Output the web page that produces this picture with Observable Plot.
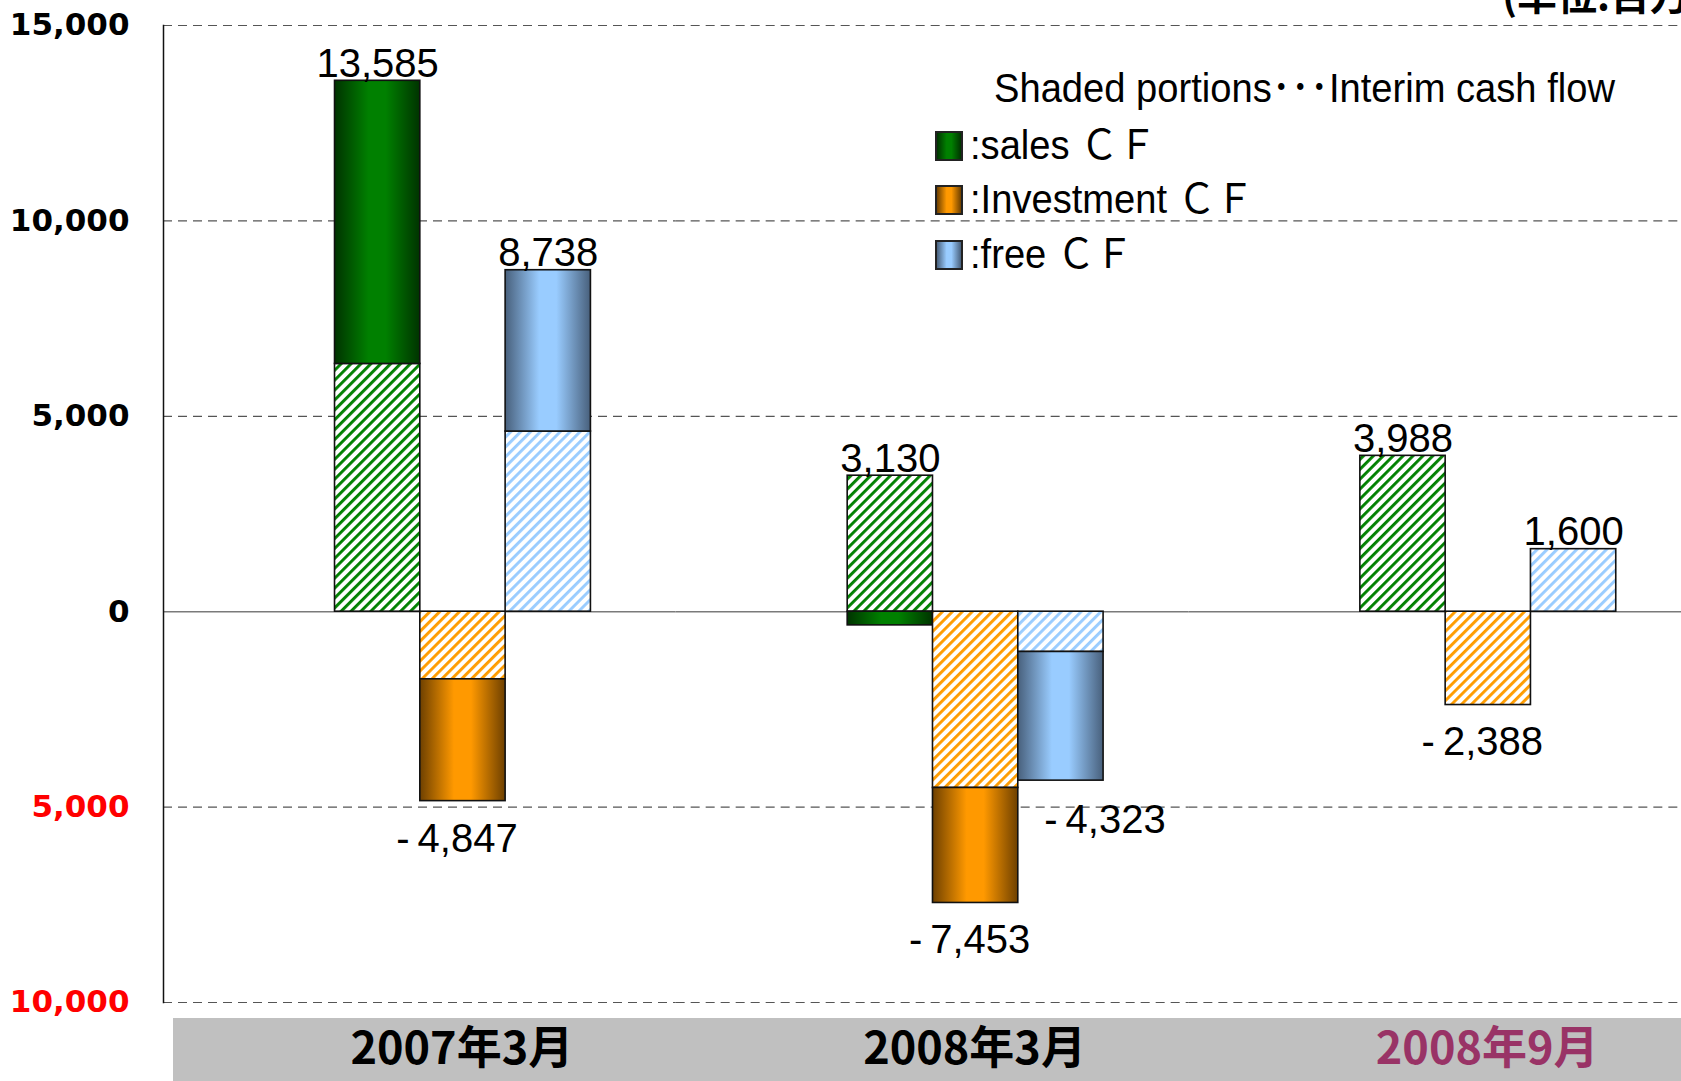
<!DOCTYPE html>
<html>
<head>
<meta charset="utf-8">
<script src="https://cdn.jsdelivr.net/npm/d3@7"></script>
<script src="https://cdn.jsdelivr.net/npm/@observablehq/plot@0.6"></script>
<style>
  html, body { margin: 0; padding: 0; background: #fff; overflow: hidden; }
  #wrap { position: relative; width: 1681px; height: 1081px; overflow: hidden; background: #fff; }
  #band { position: absolute; left: 173px; top: 1018px; width: 1508px; height: 63px; background: #c0c0c0; }
  #chart { position: absolute; left: 0; top: 0; }
  #unit { position: absolute; left: 1502px; top: -27px; font: bold 40px "Noto Sans CJK JP", sans-serif; line-height: 40px; white-space: nowrap; color: #000; }
  .lg { position: absolute; white-space: nowrap; color: #000; font-family: "Liberation Sans", "Noto Sans CJK JP", sans-serif; font-size: 41px; line-height: 41px; transform: scaleX(0.93); transform-origin: 0 50%; }
  .sw { position: absolute; width: 24px; height: 26px; border: 2px solid #222; }
</style>
</head>
<body>
<div id="wrap">
  <div id="band"></div>
  <div id="chart"></div>
  <div id="unit">(単位:百万円)</div>
  <div id="legend"></div>
</div>
<script>
// ---- data ----
const periods = ["2007年3月", "2008年3月", "2008年9月"];
const seriesKeys = ["sales", "investment", "free"];
const seriesNames = [":sales ＣＦ", ":Investment ＣＦ", ":free ＣＦ"];
const salesTotal = [13585, 3130, 3988];
const investmentTotal = [-4847, -7453, -2388];
const freeTotal = [8738, -4323, 1600];
const salesInterim = [6340, 3480, 3988];
const investmentInterim = [-1730, -4510, -2388];
const freeInterim = [4610, -1030, 1600];
const yTicks = [15000, 10000, 5000, 0, -5000, -10000];
const gridTicks = [15000, 10000, 5000, -5000, -10000];
const periodColors = ["#000000", "#000000", "#993366"];
const legendTitle = "Shaded portions･･･Interim cash flow";

const totals = {sales: salesTotal, investment: investmentTotal, free: freeTotal};
const interims = {sales: salesInterim, investment: investmentInterim, free: freeInterim};

const rows = [];
const labels = [];
periods.forEach((p, i) => {
  seriesKeys.forEach(s => {
    const total = totals[s][i], interim = interims[s][i];
    rows.push({period: p, series: s, part: "interim", value: interim});
    if (total - interim !== 0) rows.push({period: p, series: s, part: "second", value: total - interim});
    const ext = total >= 0 ? Math.max(total, interim, 0) : Math.min(total, interim, 0);
    labels.push({period: p, series: s, total, y: ext});
  });
});

const fmtAbs = d3.format(",");
const fmt = v => (v < 0 ? "-\u2009" : "") + fmtAbs(Math.abs(v));
const palette = {
  sales: {stripe: "#008000", dark: "#003300", mid: "#008000"},
  investment: {stripe: "#ff9c00", dark: "#6e4000", mid: "#ff9900"},
  free: {stripe: "#99ccff", dark: "#48607c", mid: "#99ccff"}
};
const isSpecial = d => d.period === "2008年3月" && d.series === "free";

const chart = Plot.plot({
  width: 1701,
  height: 1081,
  marginTop: 25,
  marginBottom: 79,
  marginLeft: 163,
  marginRight: 0,
  style: {background: "transparent", maxWidth: "none", overflow: "visible"},
  fx: {domain: periods, padding: 0, round: false, label: null},
  x: {domain: seriesKeys, paddingInner: 0, paddingOuter: 1.505, align: 0.668, round: false, axis: null},
  y: {domain: [-10000, 15000]},
  color: {type: "identity"},
  marks: [
    Plot.ruleY(gridTicks, {stroke: "#555", strokeWidth: 1.2, strokeDasharray: "9,6"}),
    Plot.ruleY([0], {stroke: "#7a7a7a", strokeWidth: 1.5}),
    Plot.barY(rows, Plot.stackY({
      fx: "period", x: "series", y: "value",
      fill: d => d.part === "interim" ? `url(#hatch-${d.series})` : `url(#grad-${d.series})`,
      stroke: "#111", strokeWidth: 1.6, inset: 0
    })),
    Plot.frame({anchor: "left", facetAnchor: "left", stroke: "#111", strokeWidth: 1.5}),
    Plot.axisY({
      ticks: yTicks, tickSize: 0, tickPadding: 34,
      tickFormat: d => fmtAbs(Math.abs(d)),
      fill: d => d < 0 ? "#ff0000" : "#000000",
      fontSize: 31, fontWeight: "bold", fontFamily: "DejaVu Sans", label: null
    }),
    Plot.axisFx({
      anchor: "bottom", tickSize: 0, tickPadding: 30, dx: 42, label: null,
      fill: d => periodColors[periods.indexOf(d)],
      fontSize: 45, fontWeight: "bold", fontFamily: "Noto Sans CJK JP"
    }),
    Plot.text(labels.filter(d => d.total >= 0), {
      fx: "period", x: "series", y: "y", text: d => fmt(d.total),
      lineAnchor: "bottom", dy: -4, fontSize: 40, fontFamily: "Liberation Sans", fill: "#000"
    }),
    Plot.text(labels.filter(d => d.total < 0 && !isSpecial(d)), {
      fx: "period", x: "series", y: "y", text: d => fmt(d.total),
      lineAnchor: "top", dy: 22, dx: -6, fontSize: 40, fontFamily: "Liberation Sans", fill: "#000"
    }),
    Plot.text(labels.filter(isSpecial), {
      fx: "period", x: "series", y: "y", text: d => fmt(d.total),
      lineAnchor: "top", dy: 24, dx: 44, fontSize: 40, fontFamily: "Liberation Sans", fill: "#000"
    })
  ]
});

// patterns & gradients
const defs = d3.select(chart).insert("defs", ":first-child");
for (const s of seriesKeys) {
  const c = palette[s];
  const p = defs.append("pattern").attr("id", `hatch-${s}`)
    .attr("patternUnits", "userSpaceOnUse").attr("width", 7).attr("height", 7)
    .attr("patternTransform", "rotate(45)");
  p.append("rect").attr("width", 7).attr("height", 7).attr("fill", "#fff");
  p.append("rect").attr("width", 2.9).attr("height", 7).attr("fill", c.stripe);
  const g = defs.append("linearGradient").attr("id", `grad-${s}`)
    .attr("x1", 0).attr("x2", 1).attr("y1", 0).attr("y2", 0);
  g.append("stop").attr("offset", "0%").attr("stop-color", c.dark);
  g.append("stop").attr("offset", "40%").attr("stop-color", c.mid);
  g.append("stop").attr("offset", "60%").attr("stop-color", c.mid);
  g.append("stop").attr("offset", "100%").attr("stop-color", c.dark);
}
document.getElementById("chart").appendChild(chart);

// legend (HTML)
const legend = document.getElementById("legend");
const title = document.createElement("div");
title.className = "lg";
title.style.left = "994px"; title.style.top = "68px";
title.textContent = legendTitle;
legend.appendChild(title);
const rowTops = [131, 185, 240];
seriesKeys.forEach((s, i) => {
  const c = palette[s];
  const sw = document.createElement("div");
  sw.className = "sw";
  sw.style.left = "935px"; sw.style.top = rowTops[i] + "px";
  sw.style.background = `linear-gradient(to right, ${c.dark}, ${c.mid} 40%, ${c.mid} 60%, ${c.dark})`;
  legend.appendChild(sw);
  const t = document.createElement("div");
  t.className = "lg";
  t.style.left = "970px"; t.style.top = (rowTops[i] - 6) + "px";
  t.textContent = seriesNames[i];
  legend.appendChild(t);
});
</script>
</body>
</html>
